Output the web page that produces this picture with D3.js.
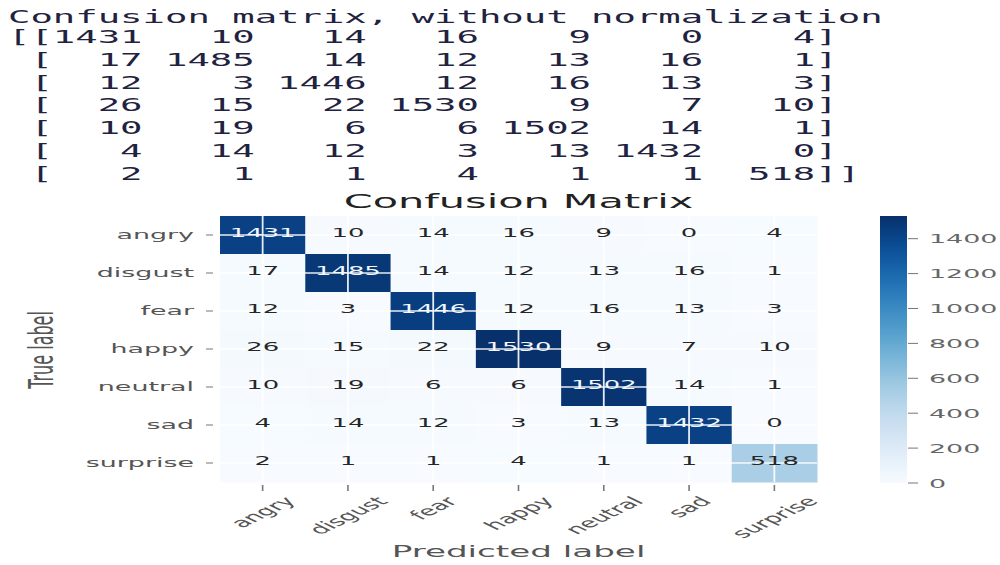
<!DOCTYPE html>
<html>
<head>
<meta charset="utf-8">
<title>Confusion Matrix</title>
<script src="https://cdn.jsdelivr.net/npm/d3@7"></script>
<style>
  html, body { margin: 0; padding: 0; background: #fff; }
  svg { display: block; }
</style>
</head>
<body>
<svg id="chart" width="1000" height="565"></svg>
<script>
// ---- data -------------------------------------------------------------
const classes = ["angry", "disgust", "fear", "happy", "neutral", "sad", "surprise"];

// rows = true label, columns = predicted label
const angryRow    = [1431,   10,   14,   16,    9,    0,    4];
const disgustRow  = [  17, 1485,   14,   12,   13,   16,    1];
const fearRow     = [  12,    3, 1446,   12,   16,   13,    3];
const happyRow    = [  26,   15,   22, 1530,    9,    7,   10];
const neutralRow  = [  10,   19,    6,    6, 1502,   14,    1];
const sadRow      = [   4,   14,   12,    3,   13, 1432,    0];
const surpriseRow = [   2,    1,    1,    4,    1,    1,  518];
const matrix = [angryRow, disgustRow, fearRow, happyRow, neutralRow, sadRow, surpriseRow];

const colorbarTicks = [0, 200, 400, 600, 800, 1000, 1200, 1400];

const consoleHeading = "Confusion matrix, without normalization";
const chartTitle = "Confusion Matrix";
const xAxisTitle = "Predicted label";
const yAxisTitle = "True label";

// ---- layout -----------------------------------------------------------
const SX = 2.07;                       // horizontal stretch applied to all text
const plot = { left: 220, right: 817, top: 216, bottom: 482 };
const cbar = { left: 880, right: 907, top: 216, bottom: 483 };
const FONT = "DejaVu Sans, Verdana, sans-serif";
const MONO = "DejaVu Sans Mono, monospace";

const svg = d3.select("#chart");

// text that is stretched horizontally about its anchor point
function stretchedText(parent, x, y, str, o) {
  const g = parent.append("g")
    .attr("transform", `translate(${x},${y}) scale(${SX},1)` + (o.rotate ? ` rotate(${o.rotate})` : ""));
  const t = g.append("text")
    .attr("font-family", o.family || FONT)
    .attr("font-size", o.size)
    .attr("fill", o.fill)
    .attr("text-anchor", o.anchor || "start")
    .text(str);
  if (o.dy) t.attr("dy", o.dy);
  return { g, t };
}

// ---- printed matrix (console output) -------------------------------------
const consoleLines = [consoleHeading].concat(matrix.map((row, i) =>
  (i === 0 ? "[[" : " [") +
  row.map(v => String(v).padStart(4, " ")).join(" ") +
  "]" + (i === matrix.length - 1 ? "]" : "")
));
consoleLines.forEach((line, i) => {
  const y = i === 0 ? 23 : 43 + (i - 1) * 22.83;
  const { t } = stretchedText(svg, 8, y, line, { size: 18, fill: "#1f2340", family: MONO });
  t.attr("xml:space", "preserve").style("white-space", "pre");
});

// ---- heatmap ----------------------------------------------------------
const vmax = d3.max(matrix.flat());
const color = d3.scaleSequential(d3.interpolateBlues).domain([0, vmax]);
const x = d3.scaleBand().domain(classes).range([plot.left, plot.right]);
const y = d3.scaleBand().domain(classes).range([plot.top, plot.bottom]);

const cells = matrix.flatMap((row, i) => row.map((v, j) => ({ t: classes[i], p: classes[j], v })));

svg.append("g").selectAll("rect").data(cells).join("rect")
  .attr("x", d => x(d.p))
  .attr("y", d => y(d.t))
  .attr("width", x.bandwidth() + 0.5)
  .attr("height", y.bandwidth() + 0.5)
  .attr("fill", d => color(d.v));

// white grid through the tick positions
const grid = svg.append("g").attr("stroke", "#fff").attr("stroke-opacity", 0.9);
grid.selectAll("line.v").data(classes).join("line").attr("class", "v")
  .attr("x1", d => x(d) + x.bandwidth() / 2).attr("x2", d => x(d) + x.bandwidth() / 2)
  .attr("y1", plot.top).attr("y2", plot.bottom)
  .attr("stroke-width", 1.8);
grid.selectAll("line.h").data(classes).join("line").attr("class", "h")
  .attr("y1", d => y(d) + y.bandwidth() / 2).attr("y2", d => y(d) + y.bandwidth() / 2)
  .attr("x1", plot.left).attr("x2", plot.right)
  .attr("stroke-width", 1.3);

// cell annotations
const annot = svg.append("g");
cells.forEach(d => {
  stretchedText(annot, x(d.p) + x.bandwidth() / 2, y(d.t) + y.bandwidth() / 2 + 1.5, String(d.v), {
    size: 12.5, anchor: "middle", fill: d.v > vmax / 2 ? "#f4f8fc" : "#262626"
  });
});

// ---- axes ---------------------------------------------------------------
const axisG = svg.append("g");
classes.forEach(c => {
  const cy = y(c) + y.bandwidth() / 2;
  axisG.append("line").attr("x1", 206).attr("x2", 213).attr("y1", cy).attr("y2", cy)
    .attr("stroke", "#777").attr("stroke-width", 1);
  stretchedText(axisG, 194, cy, c, { size: 13, anchor: "end", fill: "#555", dy: "0.33em" });
});

classes.forEach(c => {
  const cx = x(c) + x.bandwidth() / 2;
  axisG.append("line").attr("x1", cx).attr("x2", cx).attr("y1", 485).attr("y2", 491)
    .attr("stroke", "#777").attr("stroke-width", 1.6);
  const { g, t } = stretchedText(axisG, cx, 0, c, {
    size: 13, anchor: "middle", fill: "#555", dy: "0.35em", rotate: -45
  });
  // centre the rotated label under its tick with its top edge just below the ticks
  const w = t.node().getComputedTextLength();
  const h = 11;
  const cy = 495 + 0.7071 * (w + h) / 2;
  g.attr("transform", `translate(${cx},${cy}) scale(${SX},1) rotate(-45)`);
});

stretchedText(svg, (plot.left + plot.right) / 2, 208, chartTitle, { size: 20, anchor: "middle", fill: "#222" });
stretchedText(svg, (plot.left + plot.right) / 2, 557, xAxisTitle, { size: 16.5, anchor: "middle", fill: "#555" });
stretchedText(svg, 53, 350, yAxisTitle, { size: 16, anchor: "middle", fill: "#555", rotate: -90 });

// ---- colour bar ---------------------------------------------------------------
const cb = d3.scaleLinear().domain([0, vmax]).range([cbar.bottom, cbar.top]);
const grad = svg.append("defs").append("linearGradient")
  .attr("id", "cbGrad").attr("x1", 0).attr("y1", 1).attr("x2", 0).attr("y2", 0);
d3.range(0, 1.0001, 0.05).forEach(s => {
  grad.append("stop").attr("offset", s).attr("stop-color", d3.interpolateBlues(s));
});
svg.append("rect")
  .attr("x", cbar.left).attr("y", cbar.top)
  .attr("width", cbar.right - cbar.left).attr("height", cbar.bottom - cbar.top)
  .attr("fill", "url(#cbGrad)");

const cbAxis = svg.append("g");
colorbarTicks.forEach(v => {
  cbAxis.append("line").attr("x1", cbar.right + 1).attr("x2", cbar.right + 11)
    .attr("y1", cb(v)).attr("y2", cb(v)).attr("stroke", "#777").attr("stroke-width", 1);
  stretchedText(cbAxis, 929, cb(v), String(v), { size: 13, fill: "#666", dy: "0.35em" });
});
</script>
</body>
</html>
